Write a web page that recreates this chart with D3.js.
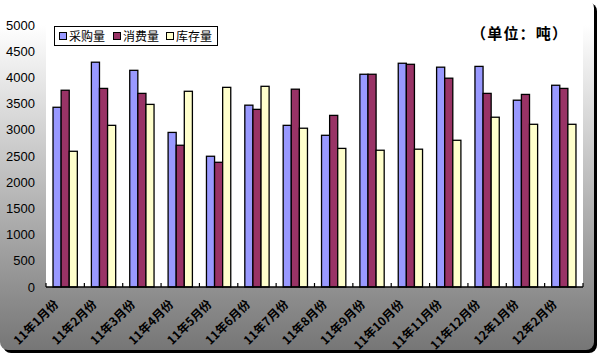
<!DOCTYPE html>
<html><head><meta charset="utf-8">
<script src="https://cdn.jsdelivr.net/npm/d3@7"></script>
<style>body{margin:0;background:#fff}svg{display:block}</style>
</head><body>
<svg id="c" width="598" height="355"></svg>
<script>
const categories = ["11年1月份","11年2月份","11年3月份","11年4月份","11年5月份","11年6月份","11年7月份","11年8月份","11年9月份","11年10月份","11年11月份","11年12月份","12年1月份","12年2月份"];
const seriesNames = ["采购量","消费量","库存量"];
const purchase = [3430,4290,4135,2950,2495,3470,3085,2895,4060,4270,4195,4210,3565,3850];
const consume  = [3755,3790,3695,2705,2380,3390,3775,3275,4060,4250,3985,3695,3675,3790];
const stock    = [2590,3085,3485,3735,3810,3830,3030,2645,2610,2630,2800,3240,3105,3105];
const yTicks = [0,500,1000,1500,2000,2500,3000,3500,4000,4500,5000];
const unitLabel = "（单位：吨）";
const colors = ["#9999FF","#993366","#FFFFCC"];

const svg = d3.select("#c");
const defs = svg.append("defs");
const g = defs.append("linearGradient").attr("id","bg").attr("x1",0).attr("y1",0).attr("x2",0).attr("y2",1);
g.append("stop").attr("offset","0").attr("stop-color","#ffffff");
g.append("stop").attr("offset","0.07").attr("stop-color","#ffffff");
g.append("stop").attr("offset","1").attr("stop-color","#767676");

svg.append("rect").attr("x",3).attr("y",3).attr("width",594).attr("height",350).attr("rx",8).attr("fill","#000");
svg.append("rect").attr("x",0).attr("y",0).attr("width",594).attr("height",350).attr("rx",8).attr("fill","url(#bg)");

const L=46,R=583,T=25,B=287;
const x = d3.scaleBand().domain(categories).range([L,R]).paddingInner(0).paddingOuter(0);
const y = d3.scaleLinear().domain([0,5000]).range([B,T]);

svg.append("rect").attr("x",L).attr("y",T).attr("width",R-L).attr("height",B-T).attr("fill","#fff");

const bw = 8.1;
const data = [purchase,consume,stock];
const gx = d3.scaleBand().domain([0,1,2]).range([0,bw*3]);
const off = (x.bandwidth()-bw*3)/2;
data.forEach((vals,si)=>{
  svg.append("g").selectAll("rect").data(vals).join("rect")
    .attr("x",(d,i)=>x(categories[i])+off+gx(si))
    .attr("y",d=>y(d))
    .attr("width",bw)
    .attr("height",d=>B-y(d))
    .attr("fill",colors[si])
    .attr("stroke","#000").attr("stroke-width",1.3);
});

const xa = svg.append("g").attr("transform",`translate(0,${B})`);
xa.append("line").attr("x1",L).attr("x2",R).attr("y1",0).attr("y2",0).attr("stroke","#000").attr("stroke-width",1.5);
const bounds = categories.map(c=>x(c)).concat([R]);
xa.selectAll("line.t").data(bounds).join("line").attr("class","t")
  .attr("x1",d=>d).attr("x2",d=>d).attr("y1",0).attr("y2",-4).attr("stroke","#000").attr("stroke-width",1.2);
svg.append("g").selectAll("text").data(categories).join("text")
  .attr("transform",d=>`translate(${x(d)+x.bandwidth()/2-6},${B+18}) rotate(-45)`)
  .attr("text-anchor","end")
  .attr("font-family","'Noto Sans CJK SC', sans-serif").attr("font-weight","bold").attr("font-size",12)
  .attr("fill","#000").text(d=>d);

const yAxis = d3.axisLeft(y).tickValues(yTicks).tickFormat(d3.format("d")).tickSize(0).tickPadding(11);
const ya = svg.append("g").attr("transform",`translate(${L},0)`).call(yAxis);
ya.select(".domain").remove();
ya.selectAll("text").attr("font-family","Arial, 'Liberation Sans', sans-serif").attr("font-size",13).attr("fill","#000");

const lg = svg.append("g");
lg.append("rect").attr("x",54.5).attr("y",26.5).attr("width",163).attr("height",19).attr("fill","#fff").attr("stroke","#000").attr("stroke-width",1);
const lx = [59,113,166];
seriesNames.forEach((n,i)=>{
  lg.append("rect").attr("x",lx[i]+0.5).attr("y",32.5).attr("width",7).attr("height",7).attr("fill",colors[i]).attr("stroke","#000").attr("stroke-width",1);
  lg.append("text").attr("x",lx[i]+10).attr("y",40.5).attr("font-family","'Noto Sans CJK SC', sans-serif").attr("font-size",12).attr("fill","#000").text(n);
});

svg.append("text").attr("x",471).attr("y",39).attr("textLength",96).attr("lengthAdjust","spacing")
  .attr("font-family","'Noto Sans CJK SC', sans-serif").attr("font-weight","bold").attr("font-size",15).attr("fill","#000").text(unitLabel);
</script>
</body></html>
